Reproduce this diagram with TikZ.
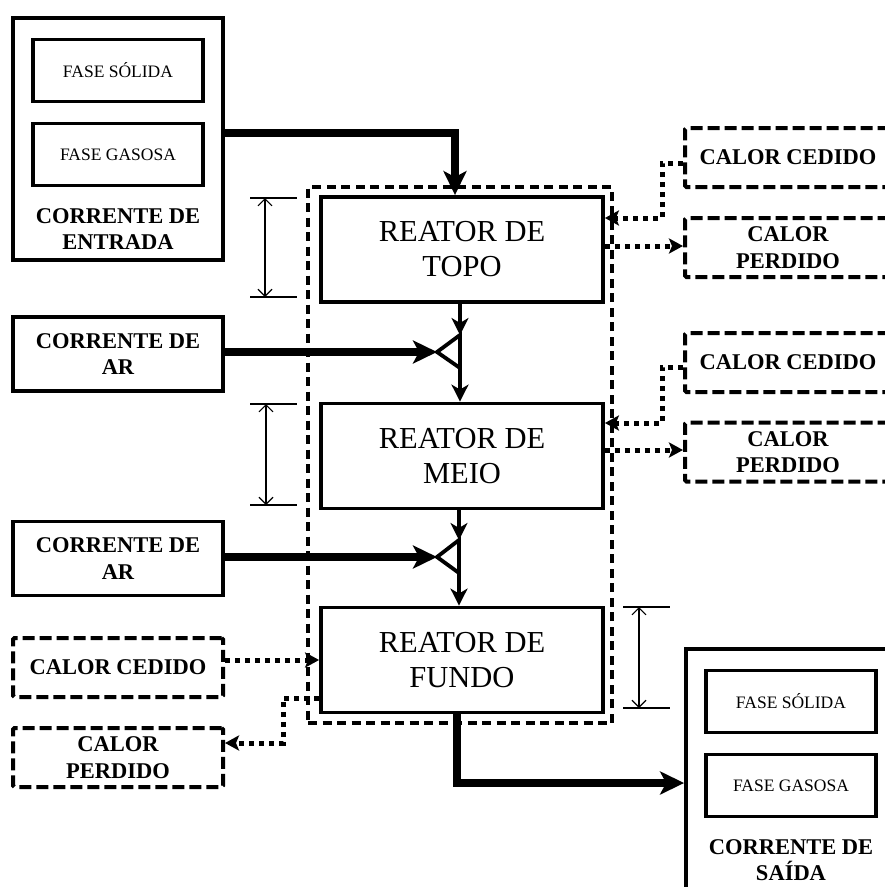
\documentclass[tikz,border=0pt]{standalone}
\usepackage{fontspec}
\setmainfont{Liberation Serif}
\usetikzlibrary{arrows.meta}
\begin{document}
\begin{tikzpicture}[x=1pt,y=-1pt,
  solidbox/.style={draw, line width=3.8pt, rectangle, inner sep=0pt},
  dashbox/.style={draw, line width=4pt, dash pattern=on 12pt off 5pt, rectangle, inner sep=0pt, rounded corners=1.5pt},
  enclbox/.style={draw, line width=3.3pt, dash pattern=on 9pt off 5.5pt, rectangle, inner sep=0pt},
  reactor/.style={solidbox, minimum width=282pt, minimum height=105pt, align=center, font=\fontsize{30.5}{35}\selectfont},
  phase/.style={solidbox, minimum width=170pt, minimum height=62pt, font=\fontsize{17.5}{20}\selectfont},
  streambox/.style={solidbox, minimum width=210pt},
  calorbox/.style={dashbox, minimum width=206pt, minimum height=59pt},
  lbl/.style={align=center, font=\bfseries\fontsize{22.5}{26.5}\selectfont, inner sep=0pt},
  flow/.style={line width=7.5pt, -{Stealth[length=24pt,width=23pt,inset=6pt]}},
  mflow/.style={line width=4.5pt, -{Stealth[length=17pt,width=17pt,inset=5pt]}},
  heat/.style={line width=5pt, dash pattern=on 5pt off 5pt, -{Stealth[length=14pt,width=15pt,inset=3pt]}},
  dimtick/.style={line width=1.1pt},
  dimarrow/.style={line width=1.1pt, {Straight Barb[length=7pt,width=14pt]}-{Straight Barb[length=7pt,width=14pt]}},
  mixer/.style={line width=3.8pt, fill=white, line join=miter}
]
\clip (0,0) rectangle (885,887);
\fill[white] (0,0) rectangle (885,887);

% enclosing system
\node[enclbox, minimum width=304pt, minimum height=536pt] (sistema) at (460,455) {};

% entrance stream
\node[streambox, minimum height=242pt] (entrada) at (118,139) {};
\node[phase] (solida1) at (118,70.5) {FASE SÓLIDA};
\node[phase] (gasosa1) at (118,154.5) {FASE GASOSA};
\node[lbl] (entradatxt) at (118,229) {CORRENTE DE\\ENTRADA};

% reactors
\node[reactor] (topo) at (462,249.5) {REATOR DE\\TOPO};
\node[reactor] (meio) at (462,456) {REATOR DE\\MEIO};
\node[reactor] (fundo) at (462,660) {REATOR DE\\FUNDO};

% air streams
\node[streambox, minimum height=74pt, lbl] (ar1) at (118,354) {CORRENTE DE\\AR};
\node[streambox, minimum height=74pt, lbl] (ar2) at (118,558.5) {CORRENTE DE\\AR};

% mixers
\coordinate (m1tip) at (437,352);
\coordinate (m1top) at (460,335);
\coordinate (m1bot) at (460,368);
\coordinate (m2tip) at (437,557);
\coordinate (m2top) at (459,540);
\coordinate (m2bot) at (459,573);
\draw[mixer] (m1tip) -- (m1top) -- (m1bot) -- cycle;
\draw[mixer] (m2tip) -- (m2top) -- (m2bot) -- cycle;

% heat boxes right
\node[calorbox, lbl] (ced1) at (788,157.5) {CALOR CEDIDO};
\node[calorbox, lbl] (per1) at (788,247.5) {CALOR\\PERDIDO};
\node[calorbox, lbl] (ced2) at (788,362.5) {CALOR CEDIDO};
\node[calorbox, lbl] (per2) at (788,452) {CALOR\\PERDIDO};
% heat boxes left
\node[calorbox, minimum width=210pt, lbl] (cedL) at (118,667.5) {CALOR CEDIDO};
\node[calorbox, minimum width=210pt, lbl] (perL) at (118,757.5) {CALOR\\PERDIDO};

% exit stream
\node[streambox, minimum height=242pt] (saida) at (791,770) {};
\node[phase] (solida2) at (791,701.5) {FASE SÓLIDA};
\node[phase] (gasosa2) at (791,785.5) {FASE GASOSA};
\node[lbl] (saidatxt) at (791,860) {CORRENTE DE\\SAÍDA};

% main flows
\coordinate (inA) at (455,133);
\draw[flow] (entrada.east |- inA) -- (inA) -- (inA |- topo.north);
\draw[flow] (ar1.east |- m1tip) -- (m1tip);
\draw[flow] (ar2.east |- m2tip) -- (m2tip);
\draw[mflow] (topo.south -| m1top) -- (m1top);
\draw[mflow] (m1bot) -- (meio.north -| m1bot);
\draw[mflow] (meio.south -| m2top) -- (m2top);
\draw[mflow] (m2bot) -- (fundo.north -| m2bot);
\coordinate (outA) at (457,783);
\draw[flow] (fundo.south -| outA) -- (outA) -- (saida.west |- outA);

% heat flows right
\coordinate (h1a) at (662,163);
\coordinate (h1b) at (662,218);
\coordinate (h1p) at (603,246);
\draw[heat] (ced1.west |- h1a) -- (h1a) -- (h1b) -- (topo.east |- h1b);
\draw[heat] (topo.east |- h1p) -- (per1.west |- h1p);
\coordinate (h2a) at (662,367);
\coordinate (h2b) at (662,423);
\coordinate (h2p) at (603,450);
\draw[heat] (ced2.west |- h2a) -- (h2a) -- (h2b) -- (meio.east |- h2b);
\draw[heat] (meio.east |- h2p) -- (per2.west |- h2p);
% heat flows left
\coordinate (h3a) at (223,660);
\draw[heat] (cedL.east |- h3a) -- (fundo.west |- h3a);
\coordinate (h3b) at (283,698);
\coordinate (h3c) at (283,743);
\draw[heat] (fundo.west |- h3b) -- (h3b) -- (h3c) -- (perL.east |- h3c);

% dimension marks
\coordinate (d1l1) at (250,198); \coordinate (d1r1) at (297,198);
\coordinate (d1l2) at (250,297); \coordinate (d1r2) at (297,297);
\coordinate (d1x) at (265,0);
\draw[dimtick] (d1l1) -- (d1r1);
\draw[dimtick] (d1l2) -- (d1r2);
\draw[dimarrow] (d1x |- d1l1) -- (d1x |- d1l2);

\coordinate (d2l1) at (250,404); \coordinate (d2r1) at (297,404);
\coordinate (d2l2) at (250,505); \coordinate (d2r2) at (297,505);
\coordinate (d2x) at (266,0);
\draw[dimtick] (d2l1) -- (d2r1);
\draw[dimtick] (d2l2) -- (d2r2);
\draw[dimarrow] (d2x |- d2l1) -- (d2x |- d2l2);

\coordinate (d3l1) at (623,607); \coordinate (d3r1) at (670,607);
\coordinate (d3l2) at (623,708); \coordinate (d3r2) at (670,708);
\coordinate (d3x) at (639,0);
\draw[dimtick] (d3l1) -- (d3r1);
\draw[dimtick] (d3l2) -- (d3r2);
\draw[dimarrow] (d3x |- d3l1) -- (d3x |- d3l2);
\end{tikzpicture}
\end{document}
